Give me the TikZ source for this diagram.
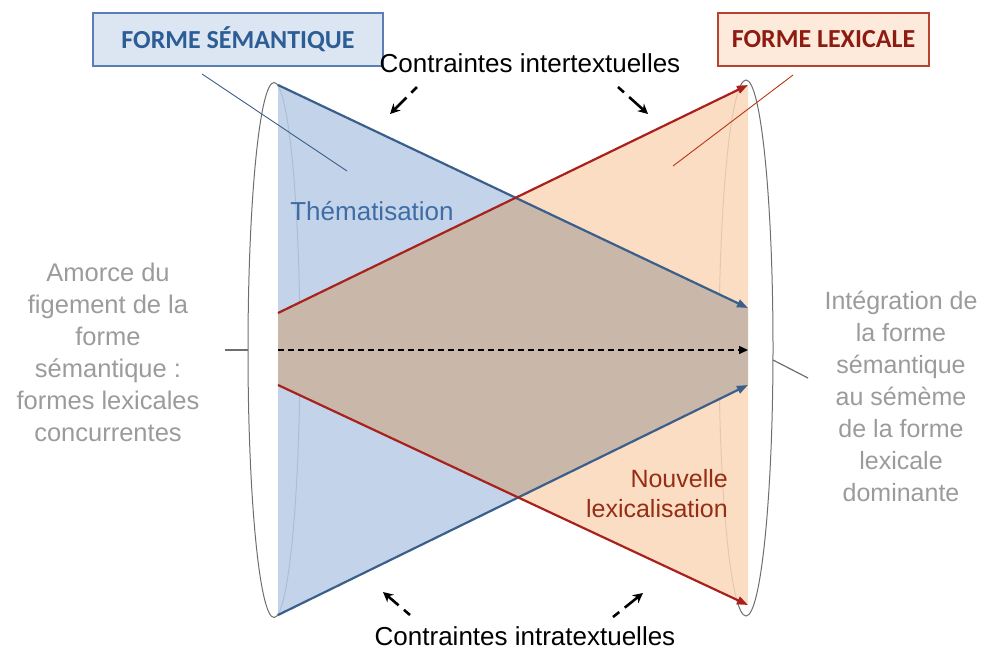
\documentclass[tikz,border=0pt]{standalone}
\usepackage{fontspec}
\setmainfont{Liberation Sans}
\newfontfamily\calib{Carlito}
\usetikzlibrary{arrows.meta,shapes.geometric}
\definecolor{blueFill}{HTML}{B9CDE6}
\definecolor{orangeFill}{HTML}{FAD7B9}
\definecolor{overlapFill}{HTML}{C5B4A8}
\definecolor{blueLine}{HTML}{3A5F8B}
\definecolor{redLine}{HTML}{A8211C}
\definecolor{blueBoxFill}{HTML}{DCE6F2}
\definecolor{blueBoxDraw}{HTML}{5A7FB5}
\definecolor{blueBoxText}{HTML}{2C5D94}
\definecolor{orBoxFill}{HTML}{FDEADA}
\definecolor{orBoxDraw}{HTML}{B8432F}
\definecolor{orBoxText}{HTML}{8E1B12}
\definecolor{themText}{HTML}{3E6CA4}
\definecolor{lexText}{HTML}{962E17}
\definecolor{sideGray}{HTML}{9B9B9B}
\definecolor{ellGray}{HTML}{6E6E6E}
\tikzset{
  titlebox/.style={draw, line width=1.2pt, minimum width=290pt, minimum height=53pt, inner sep=0pt, font=\calib\bfseries\fontsize{26}{30}\selectfont},
  colline/.style={line width=2.2pt, -{Triangle[length=11pt,width=8pt]}},
  smallarr/.style={black, line width=2.6pt, dash pattern=on 8pt off 7pt on 40pt off 0pt, -{Stealth[length=10pt,width=10pt]}},
  sidetext/.style={sideGray, align=center, inner sep=0pt, anchor=base},
  contr/.style={black, inner sep=0pt, anchor=base, font=\fontsize{26}{30}\selectfont},
  callout/.style={line width=0.9pt},
  cyl/.style={draw=ellGray, line width=1pt, ellipse, inner sep=0pt}
}
\begin{document}
\begin{tikzpicture}[x=1pt,y=-1pt]
\useasboundingbox (0,0) rectangle (991,649);
% key points
\coordinate (BT) at (278,85);
\coordinate (BB) at (278,615);
\coordinate (BTR) at (748,308);
\coordinate (BBR) at (748,385);
\coordinate (OT) at (748,85);
\coordinate (OB) at (748,605);
\coordinate (OTL) at (278,313);
\coordinate (OBL) at (278,385);
\coordinate (ML) at (278,350);
\coordinate (MR) at (748,350);
% cylinders ends
\node[cyl, minimum width=52pt, minimum height=535pt] (elL) at (274,350) {};
\node[cyl, minimum width=54pt, minimum height=536pt] (elR) at (746,348) {};
% fills
\fill[blueFill, fill opacity=0.85] (BT) -- (BTR) -- (BBR) -- (BB) -- cycle;
\fill[orangeFill, fill opacity=0.85] (OT) -- (OTL) -- (OBL) -- (OB) -- cycle;
\begin{scope}
  \clip (BT) -- (BTR) -- (BBR) -- (BB) -- cycle;
  \fill[overlapFill, fill opacity=0.9] (OT) -- (OTL) -- (OBL) -- (OB) -- cycle;
\end{scope}
% lines
\draw[blueLine, colline] (BT) -- (BTR);
\draw[blueLine, colline] (BB) -- (BBR);
\draw[redLine, colline] (OTL) -- (OT);
\draw[redLine, colline] (OBL) -- (OB);
\draw[black, line width=1.4pt, dash pattern=on 6pt off 4pt, -{Triangle[length=9pt,width=8pt]}] (ML) -- (MR);
% ticks
\coordinate (tL) at (225,350);
\draw[ellGray, line width=1.2pt] (tL) -- (elL.west);
\coordinate (tR1) at (773,360);
\coordinate (tR2) at (808,378);
\draw[ellGray, line width=1.2pt] (tR1) -- (tR2);
% title boxes
\node[titlebox, fill=blueBoxFill, draw=blueBoxDraw, text=blueBoxText, minimum width=290pt] (fs) at (238,39.5) {FORME SÉMANTIQUE};
\node[titlebox, fill=orBoxFill, draw=orBoxDraw, text=orBoxText, minimum width=211pt] (fl) at (823.5,39.5) {FORME LEXICALE};
% callouts
\coordinate (cb1) at (202,74);
\coordinate (cb2) at (347,171);
\draw[callout, blueLine] (cb1) -- (cb2);
\coordinate (cr1) at (793,75);
\coordinate (cr2) at (673,166);
\draw[callout, redLine!80!orange] (cr1) -- (cr2);
% constraint labels
\node[contr] (cinter) at (530,72) {Contraintes intertextuelles};
\node[contr] (cintra) at (525,645) {Contraintes intratextuelles};
\coordinate (a1s) at (417,87); \coordinate (a1e) at (390,114);
\coordinate (a2s) at (618,87); \coordinate (a2e) at (648,114);
\coordinate (a3s) at (410,615); \coordinate (a3e) at (383,592);
\coordinate (a4s) at (613,617); \coordinate (a4e) at (643,593);
\draw[smallarr] (a1s) -- (a1e);
\draw[smallarr] (a2s) -- (a2e);
\draw[smallarr] (a3s) -- (a3e);
\draw[smallarr] (a4s) -- (a4e);
% inner labels
\node[themText, inner sep=0pt, anchor=base, font=\fontsize{26}{30}\selectfont] (them) at (372,220) {Thématisation};
\node[lexText, inner sep=0pt, anchor=base east, align=right, font=\fontsize{25}{30}\selectfont] (nlex) at (728,517) {Nouvelle\\lexicalisation};
% side labels (base anchor = last line baseline)
\node[sidetext, font=\fontsize{25.5}{32}\selectfont] (amorce) at (108,441) {Amorce du\\figement de la\\forme\\sémantique :\\formes lexicales\\concurrentes};
\node[sidetext, font=\fontsize{25}{32}\selectfont] (integ) at (901,501) {Intégration de\\la forme\\sémantique\\au sémème\\de la forme\\lexicale\\dominante};
\end{tikzpicture}
\end{document}
